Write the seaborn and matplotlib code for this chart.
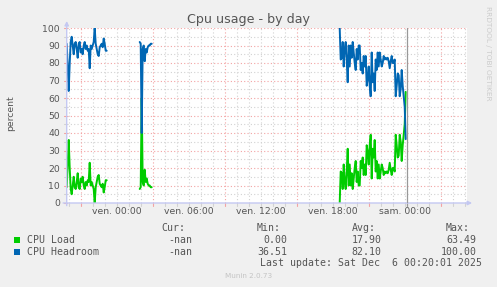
import numpy as np
import pandas as pd
import matplotlib
matplotlib.use("Agg")
import matplotlib.pyplot as plt
from matplotlib.patches import Rectangle
import seaborn as sns

# ---------------- data ----------------
series_names = ["CPU Load", "CPU Headroom"]
series_colors = ["#00CC00", "#0066B3"]

segment_starts = ["2025-12-04 19:50", "2025-12-05 01:55", "2025-12-05 18:35"]
step_minutes = 5

load_seg1 = [9, 22, 36, 20, 8, 5, 10, 15, 9, 8, 12, 17, 9, 8, 14, 12, 15, 10, 8, 12,
             10, 13, 12, 23, 10, 12, 10, 8, 0, 9, 12, 15, 16, 11, 10, 9, 11, 6, 9, 13, 13]
head_seg1 = [91, 78, 64, 80, 92, 95, 90, 85, 91, 92, 88, 83, 91, 92, 86, 88, 85, 90, 92, 88,
             90, 87, 88, 77, 90, 88, 90, 92, 100, 91, 88, 85, 84, 89, 90, 91, 89, 94, 91, 87, 87]

load_seg2 = [8, 9, 60, 12, 10, 19, 12, 14, 11, 10, 10, 9, 9]
head_seg2 = [92, 91, 40, 88, 90, 81, 88, 86, 89, 90, 90, 91, 91]

load_seg3 = [0, 18, 17, 8, 22, 12, 8, 18, 31, 10,
             22, 10, 17, 8, 14, 20, 24, 12, 18, 10,
             10, 24, 20, 26, 16, 22, 16, 33, 29, 22,
             33, 39, 14, 31, 26, 36, 18, 24, 14, 22,
             14, 18, 22, 20, 16, 18, 17, 18, 17, 19,
             23, 19, 16, 20, 20, 18, 39, 33, 26, 27,
             39, 35, 24, 33, 39, 45, 63.49]
head_seg3 = [100, 82, 83, 92, 78, 88, 92, 82, 69, 90,
             78, 90, 83, 92, 86, 80, 76, 88, 82, 90,
             90, 76, 80, 74, 84, 78, 84, 67, 71, 78,
             67, 61, 86, 69, 74, 64, 82, 76, 86, 78,
             86, 82, 78, 80, 84, 82, 83, 82, 83, 81,
             77, 81, 84, 80, 80, 82, 61, 67, 74, 73,
             61, 65, 76, 67, 61, 55, 36.51]

base_time = "2025-12-05 00:00"
view_start = "2025-12-04 19:50"
view_end = "2025-12-06 05:10"
now_marker = "2025-12-06 00:13"

x_tick_times = ["2025-12-05 00:00", "2025-12-05 06:00", "2025-12-05 12:00",
                "2025-12-05 18:00", "2025-12-06 00:00"]
x_tick_labels = ["ven. 00:00", "ven. 06:00", "ven. 12:00", "ven. 18:00", "sam. 00:00"]
y_ticks = [0, 10, 20, 30, 40, 50, 60, 70, 80, 90, 100]

title = "Cpu usage - by day"
y_label = "percent"
stat_headers = ["Cur:", "Min:", "Avg:", "Max:"]
stat_cur = ["-nan", "-nan"]
stat_min = ["0.00", "36.51"]
stat_avg = ["17.90", "82.10"]
stat_max = ["63.49", "100.00"]
last_update = "Last update: Sat Dec  6 00:20:01 2025"
footer = "Munin 2.0.73"
side_text = "RRDTOOL / TOBI OETIKER"

# ---------------- build table ----------------
base = pd.Timestamp(base_time)
def hrs(s):
    return (pd.Timestamp(s) - base) / pd.Timedelta(hours=1)

rows = []
loads = [load_seg1, load_seg2, load_seg3]
heads = [head_seg1, head_seg2, head_seg3]
for k, st in enumerate(segment_starts):
    h0 = hrs(st)
    for i, (l, hd) in enumerate(zip(loads[k], heads[k])):
        t = h0 + i * step_minutes / 60.0
        rows.append(dict(hour=t, value=l, series=series_names[0], seg=k))
        rows.append(dict(hour=t, value=hd, series=series_names[1], seg=k))
df = pd.DataFrame(rows)

# ---------------- figure ----------------
W, H = 497, 287
sns.set_style("white")
plt.rcParams["font.family"] = ["DejaVu Sans"]
fig = plt.figure(figsize=(W / 100, H / 100), dpi=100, facecolor="#F0F0F0")
ax_left, ax_right, ax_top, ax_bot = 66.7, 466.7, 28, 203
ax = fig.add_axes([ax_left / W, 1 - ax_bot / H, (ax_right - ax_left) / W, (ax_bot - ax_top) / H])
ax.set_facecolor("white")

x0, x1 = hrs(view_start), hrs(view_end)
ax.set_xlim(x0, x1)
ax.set_ylim(0, 100)

red_grid = "#F3A3A3"
grey_grid = "#D2D2D2"
dot = (0, (1, 2))
# horizontal grid
for v in range(5, 101, 5):
    ax.axhline(v, color=red_grid if v % 10 == 0 else grey_grid, lw=0.8, ls=dot, zorder=0)
# vertical grid
for hh in range(int(np.ceil(x0)), int(np.floor(x1)) + 1):
    c = red_grid if (hh - 3) % 6 == 0 else grey_grid
    ax.axvline(hh, color=c, lw=0.8, ls=dot, zorder=0)
    ax.plot([hh, hh], [0, -1.8], color=c, lw=0.8, clip_on=False, zorder=1)
for v in range(0, 101, 5):
    ax.plot([x0 - 0.2, x0], [v, v], color=red_grid if v % 10 == 0 else grey_grid,
            lw=0.8, clip_on=False)

# data
for name, col in zip(series_names, series_colors):
    sns.lineplot(data=df[df.series == name], x="hour", y="value", units="seg",
                 estimator=None, color=col, lw=1.4, ax=ax, zorder=3, legend=False)

# now marker
ax.axvline(hrs(now_marker), color="#999999", lw=0.9, zorder=4)
ax.plot([hrs(now_marker)] * 2, [0, -1.8], color="#999999", lw=0.9, clip_on=False)

for s in ax.spines.values():
    s.set_visible(False)

axis_col = "#C4C8F2"
ax.annotate("", xy=(x0, 104), xytext=(x0, -1.5), xycoords="data",
            arrowprops=dict(arrowstyle="-|>", color=axis_col, lw=1, mutation_scale=6,
                            shrinkA=0, shrinkB=0), annotation_clip=False)
ax.annotate("", xy=(x1 + 0.45, 0), xytext=(x0 - 0.3, 0), xycoords="data",
            arrowprops=dict(arrowstyle="-|>", color=axis_col, lw=1, mutation_scale=6,
                            shrinkA=0, shrinkB=0), annotation_clip=False)

txt_col = "#555555"
ax.set_yticks(y_ticks)
ax.set_yticklabels([str(v) for v in y_ticks])
ax.set_xticks([hrs(t) for t in x_tick_times])
ax.set_xticklabels(x_tick_labels)
ax.tick_params(axis="both", length=0, labelsize=6.7, labelcolor=txt_col)
ax.tick_params(axis="y", pad=4.8)
ax.tick_params(axis="x", pad=2.6)
ax.set_xlabel("")
ax.set_ylabel("")

def fx(px):
    return px / W
def fy(py):
    return 1 - py / H

fig.text(fx(248.5), fy(19.5), title, ha="center", va="center", fontsize=9.1, color=txt_col)
fig.text(fx(11), fy(113), y_label, rotation=90, ha="center", va="center",
         fontsize=6.7, color=txt_col)
fig.text(fx(488), fy(53.5), side_text, rotation=270, ha="center", va="center",
         fontsize=5.3, color="#CCCCCC")

mono = dict(family="DejaVu Sans Mono", fontsize=7.1, color=txt_col, va="center")
hdr_right = [185.7, 281, 375.7, 470]
val_right = [192.7, 287.3, 381.7, 476.7]
for hx, hd in zip(hdr_right, stat_headers):
    fig.text(fx(hx), fy(227.7), hd, ha="right", **mono)
row_y = [239.7, 251.7]
for i, name in enumerate(series_names):
    fig.patches.append(Rectangle((fx(14), fy(row_y[i] + 3)), 5.5 / W, 6 / H,
                                 transform=fig.transFigure, facecolor=series_colors[i],
                                 edgecolor="none"))
    fig.text(fx(26.7), fy(row_y[i]), name, ha="left", **mono)
    for vx, vals in zip(val_right, [stat_cur, stat_min, stat_avg, stat_max]):
        fig.text(fx(vx), fy(row_y[i]), vals[i], ha="right", **mono)
fig.text(fx(482.3), fy(263.5), last_update, ha="right", **mono)
fig.text(fx(248.3), fy(276), footer, ha="center", va="center", fontsize=5.2, color="#C4C4C4")

fig.savefig("out.png", dpi=100, facecolor=fig.get_facecolor())
